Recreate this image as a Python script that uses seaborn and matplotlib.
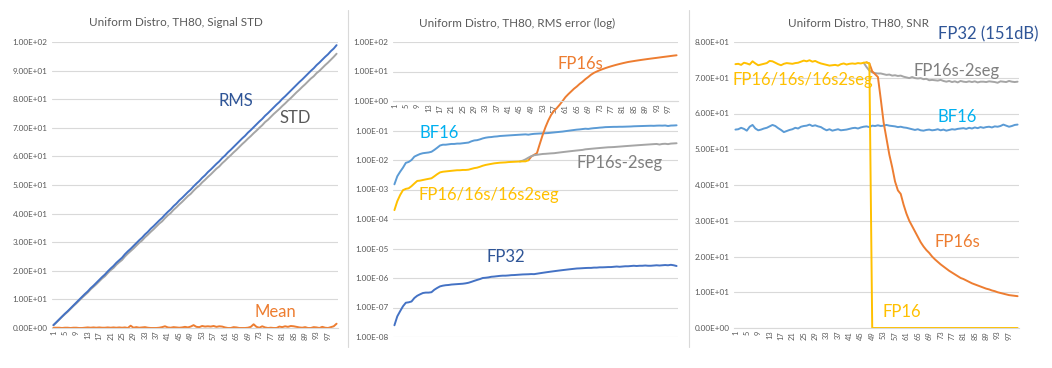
import numpy as np
import pandas as pd
import matplotlib
matplotlib.use("Agg")
import matplotlib.pyplot as plt
from matplotlib.ticker import FixedLocator, FuncFormatter, NullLocator
import seaborn as sns

nan = np.nan
runs = list(range(1, 101))
x_ticks = list(range(1, 101, 4))

# ---- panel 1: signal statistics ----
rms = [1.0, 2.0, 3.0, 4.0, 5.0, 5.9, 6.9, 7.9, 8.9, 9.9,
       10.9, 11.9, 12.8, 13.9, 14.8, 15.8, 16.8, 17.8, 18.7, 19.8,
       20.8, 21.7, 22.8, 23.7, 24.6, 25.8, 26.8, 27.7, 28.7, 29.7,
       30.7, 31.6, 32.7, 33.6, 34.7, 35.6, 36.6, 37.6, 38.5, 39.6,
       40.6, 41.5, 42.6, 43.5, 44.6, 45.5, 46.5, 47.5, 48.4, 49.5,
       50.5, 51.4, 52.5, 53.4, 54.5, 55.4, 56.4, 57.4, 58.3, 59.4,
       60.3, 61.4, 62.3, 63.3, 64.3, 65.3, 66.3, 67.2, 68.3, 69.2,
       70.2, 71.2, 72.2, 73.1, 74.2, 75.1, 76.1, 77.1, 78.1, 79.0,
       80.1, 81.0, 82.0, 83.0, 84.0, 85.0, 86.0, 86.9, 87.9, 88.9,
       89.9, 90.8, 91.9, 92.8, 93.8, 94.8, 95.7, 96.8, 97.7, 98.9]
std = [1.0, 1.9, 2.9, 3.9, 4.8, 5.7, 6.7, 7.7, 8.6, 9.6,
       10.6, 11.5, 12.4, 13.5, 14.4, 15.3, 16.3, 17.3, 18.1, 19.2,
       20.2, 21.0, 22.1, 23.0, 23.8, 25.0, 26.0, 26.9, 27.8, 28.8,
       29.8, 30.6, 31.7, 32.6, 33.6, 34.5, 35.5, 36.5, 37.3, 38.4,
       39.4, 40.2, 41.3, 42.2, 43.2, 44.1, 45.1, 46.1, 46.9, 48.0,
       49.0, 49.8, 50.9, 51.8, 52.8, 53.7, 54.7, 55.7, 56.5, 57.6,
       58.5, 59.5, 60.4, 61.4, 62.3, 63.3, 64.3, 65.2, 66.2, 67.1,
       68.1, 69.0, 70.0, 70.9, 72.0, 72.8, 73.8, 74.8, 75.7, 76.6,
       77.6, 78.5, 79.5, 80.4, 81.4, 82.4, 83.3, 84.3, 85.2, 86.2,
       87.2, 88.0, 89.1, 89.9, 90.9, 91.9, 92.8, 93.8, 94.8, 95.9]
mean = [0.1, 0.1, 0.1, 0.0, 0.1, 0.1, 0.0, 0.1, 0.1, 0.0,
        0.0, 0.1, 0.2, 0.1, 0.2, 0.1, 0.2, 0.1, 0.1, 0.2,
        0.1, 0.2, 0.1, 0.2, 0.1, 0.2, 0.0, 0.8, 0.1, 0.3,
        0.1, 0.2, 0.3, 0.1, 0.0, 0.0, 0.0, 0.1, 0.3, 0.6,
        0.2, 0.1, 0.3, 0.2, 0.1, 0.2, 0.4, 0.2, 0.5, 1.0,
        0.4, 0.3, 0.7, 0.5, 0.6, 0.5, 0.7, 0.4, 0.6, 0.5,
        0.2, 0.0, 0.0, 0.3, 0.2, 0.0, 0.0, 0.0, 0.1, 0.4,
        1.3, 0.4, 0.1, 0.6, 0.2, 0.0, 0.1, 0.0, 0.0, 0.5,
        0.3, 0.6, 0.4, 0.7, 0.6, 0.4, 0.2, 0.1, 0.3, 0.0,
        0.0, 0.3, 0.2, 0.0, 0.4, 0.1, 0.0, 0.3, 0.6, 1.5]

# ---- panel 2: RMS error ----
bf16_err = [1.5e-3, 2.8e-3, 4.0e-3, 5.5e-3, 8.0e-3, 8.6e-3, 1.0e-2, 1.3e-2, 1.45e-2, 1.6e-2,
            1.7e-2, 1.75e-2, 1.8e-2, 1.9e-2, 2.2e-2, 2.6e-2, 3.1e-2, 3.3e-2, 3.3e-2, 3.4e-2,
            3.5e-2, 3.5e-2, 3.6e-2, 3.6e-2, 3.7e-2, 3.8e-2, 3.9e-2, 4.3e-2, 4.6e-2, 4.7e-2,
            5.0e-2, 5.4e-2, 5.7e-2, 5.9e-2, 6.0e-2, 6.2e-2, 6.3e-2, 6.5e-2, 6.6e-2, 6.7e-2,
            6.8e-2, 6.9e-2, 7.0e-2, 7.1e-2, 7.2e-2, 7.3e-2, 7.4e-2, 7.2e-2, 7.5e-2, 7.7e-2,
            7.8e-2, 7.9e-2, 8.0e-2, 8.1e-2, 8.2e-2, 8.4e-2, 8.6e-2, 8.8e-2, 9.0e-2, 9.2e-2,
            9.5e-2, 9.8e-2, 1.01e-1, 1.04e-1, 1.07e-1, 1.09e-1, 1.12e-1, 1.15e-1, 1.13e-1, 1.17e-1,
            1.2e-1, 1.22e-1, 1.25e-1, 1.27e-1, 1.3e-1, 1.31e-1, 1.32e-1, 1.33e-1, 1.33e-1, 1.34e-1,
            1.34e-1, 1.35e-1, 1.36e-1, 1.37e-1, 1.39e-1, 1.40e-1, 1.41e-1, 1.42e-1, 1.43e-1, 1.44e-1,
            1.45e-1, 1.44e-1, 1.46e-1, 1.47e-1, 1.46e-1, 1.48e-1, 1.42e-1, 1.47e-1, 1.48e-1, 1.5e-1]
fp16_err = [2.0e-4, 4.0e-4, 6.5e-4, 9.5e-4, 1.05e-3, 1.1e-3, 1.3e-3, 1.6e-3, 1.95e-3, 2.0e-3,
            2.1e-3, 2.2e-3, 2.3e-3, 2.4e-3, 2.8e-3, 3.3e-3, 3.8e-3, 4.0e-3, 4.1e-3, 4.2e-3,
            4.3e-3, 4.4e-3, 4.5e-3, 4.5e-3, 4.6e-3, 4.6e-3, 4.7e-3, 5.0e-3, 5.3e-3, 5.5e-3,
            5.9e-3, 6.4e-3, 6.8e-3, 7.1e-3, 7.4e-3, 7.7e-3, 7.9e-3, 8.1e-3, 8.2e-3, 8.3e-3,
            8.5e-3, 8.6e-3, 8.7e-3, 8.8e-3, 8.9e-3, 9.0e-3, 9.0e-3, 9.8e-3] + [nan] * 52
fp16s_err = [nan] * 47 + [
    9.8e-3, 1.3e-2, 1.5e-2, 1.7e-2, 3.5e-2, 7.0e-2, 1.3e-1, 2.2e-1, 3.4e-1, 4.6e-1,
    5.8e-1, 7.5e-1, 1.0, 1.35, 1.7, 2.1, 2.6, 3.1, 3.8, 4.5,
    5.5, 6.5, 7.8, 9.0, 10.0, 11.0, 12.0, 13.0, 14.0, 15.0,
    16.0, 17.0, 18.0, 19.0, 20.0, 21.0, 21.8, 22.6, 23.4, 24.2,
    25.0, 25.8, 26.6, 27.4, 28.2, 29.0, 29.9, 30.8, 31.7, 32.6,
    33.6, 34.6, 35.5]
fp16s2seg_err = [nan] * 44 + [
    8.9e-3, 9.5e-3, 1.05e-2, 1.2e-2, 1.35e-2, 1.45e-2, 1.5e-2, 1.55e-2, 1.6e-2, 1.62e-2,
    1.65e-2, 1.68e-2, 1.7e-2, 1.75e-2, 1.8e-2, 1.85e-2, 1.9e-2, 1.95e-2, 2.0e-2, 2.05e-2,
    2.1e-2, 2.15e-2, 2.2e-2, 2.3e-2, 2.35e-2, 2.4e-2, 2.45e-2, 2.5e-2, 2.55e-2, 2.6e-2,
    2.65e-2, 2.7e-2, 2.72e-2, 2.75e-2, 2.8e-2, 2.85e-2, 2.9e-2, 2.95e-2, 3.0e-2, 3.05e-2,
    3.1e-2, 3.15e-2, 3.2e-2, 3.25e-2, 3.3e-2, 3.35e-2, 3.4e-2, 3.45e-2, 3.5e-2, 3.35e-2,
    3.5e-2, 3.55e-2, 3.45e-2, 3.6e-2, 3.65e-2, 3.7e-2]
fp32_err = [2.5e-8, 5.0e-8, 7.5e-8, 1.1e-7, 1.45e-7, 1.5e-7, 1.6e-7, 2.1e-7, 2.5e-7, 2.8e-7,
            3.1e-7, 3.2e-7, 3.2e-7, 3.3e-7, 4.0e-7, 4.6e-7, 5.2e-7, 5.5e-7, 5.7e-7, 5.8e-7,
            6.0e-7, 6.1e-7, 6.2e-7, 6.3e-7, 6.4e-7, 6.6e-7, 6.9e-7, 7.4e-7, 8.0e-7, 8.6e-7,
            9.2e-7, 1.0e-6, 1.02e-6, 1.05e-6, 1.1e-6, 1.12e-6, 1.15e-6, 1.18e-6, 1.2e-6, 1.2e-6,
            1.22e-6, 1.25e-6, 1.26e-6, 1.28e-6, 1.3e-6, 1.32e-6, 1.33e-6, 1.34e-6, 1.36e-6, 1.35e-6,
            1.4e-6, 1.45e-6, 1.5e-6, 1.55e-6, 1.6e-6, 1.65e-6, 1.7e-6, 1.75e-6, 1.8e-6, 1.85e-6,
            1.9e-6, 1.95e-6, 2.0e-6, 2.05e-6, 2.1e-6, 2.12e-6, 2.15e-6, 2.18e-6, 2.2e-6, 2.2e-6,
            2.25e-6, 2.25e-6, 2.3e-6, 2.3e-6, 2.32e-6, 2.35e-6, 2.35e-6, 2.4e-6, 2.45e-6, 2.4e-6,
            2.45e-6, 2.5e-6, 2.5e-6, 2.55e-6, 2.6e-6, 2.55e-6, 2.6e-6, 2.6e-6, 2.65e-6, 2.6e-6,
            2.6e-6, 2.65e-6, 2.7e-6, 2.65e-6, 2.7e-6, 2.75e-6, 2.7e-6, 2.8e-6, 2.7e-6, 2.55e-6]

# ---- panel 3: SNR (dB) ----
bf16_snr = [55.5, 55.6, 56.0, 55.7, 55.2, 56.3, 56.8, 55.8, 55.3, 55.5,
            55.8, 56.0, 56.4, 56.8, 56.5, 55.9, 55.4, 54.8, 55.1, 55.4,
            55.6, 56.0, 55.8, 56.3, 56.5, 56.6, 56.9, 56.5, 56.7, 56.4,
            56.2, 55.7, 55.3, 55.6, 55.2, 55.4, 55.6, 55.3, 55.4, 55.5,
            55.7, 55.9, 56.0, 55.8, 56.1, 56.3, 56.4, 56.2, 56.6, 56.5,
            56.7, 56.5, 56.6, 56.8, 56.6, 56.5, 56.4, 56.2, 56.3, 56.1,
            56.0, 55.8, 55.6, 55.4, 55.6, 55.3, 55.2, 55.4, 55.5, 55.3,
            55.4, 55.6, 55.3, 55.5, 55.2, 55.4, 55.6, 55.5, 55.7, 55.8,
            55.9, 55.7, 56.0, 55.8, 56.1, 55.9, 56.2, 56.0, 56.2, 56.3,
            56.1, 56.4, 56.3, 56.5, 56.9, 56.6, 56.3, 56.5, 56.8, 56.9]
fp16_snr = [73.8, 73.9, 73.6, 74.2, 74.0, 73.7, 74.6, 74.0, 73.5, 73.7,
            73.9, 74.1, 74.7, 74.6, 74.2, 73.8, 73.5, 73.9, 74.1, 74.0,
            73.9, 74.1, 74.2, 74.5, 74.8, 74.6, 74.9, 74.5, 74.7, 74.3,
            74.0, 73.8, 73.6, 73.4, 73.5, 73.6, 73.4, 73.8, 74.0, 73.7,
            73.9, 74.0, 73.9, 74.1, 74.0, 74.2, 74.3, 74.0] + [0.0] * 52
fp16s_snr = [nan] * 46 + [
    74.3, 74.0, 71.8, 71.0, 70.2, 64.0, 57.5, 53.0, 48.5, 45.0,
    41.0, 38.5, 37.5, 34.5, 32.0, 30.0, 28.5, 27.0, 25.5, 24.0,
    22.8, 21.8, 21.0, 20.0, 19.2, 18.5, 17.8, 17.2, 16.6, 16.0,
    15.5, 15.0, 14.5, 14.0, 13.7, 13.3, 12.9, 12.5, 12.2, 11.9,
    11.6, 11.3, 11.0, 10.8, 10.5, 10.3, 10.0, 9.8, 9.6, 9.4,
    9.2, 9.1, 9.0, 8.9]
fp16s2seg_snr = [nan] * 45 + [
    74.2, 73.0, 72.0, 71.5, 71.3, 71.2, 71.2, 71.0, 70.8, 70.9,
    70.6, 70.7, 70.5, 70.6, 70.3, 70.1, 69.9, 70.2, 69.9, 69.8,
    69.9, 69.6, 69.7, 69.3, 69.4, 69.3, 69.2, 69.4, 69.1, 68.9,
    69.1, 68.8, 69.0, 68.7, 69.1, 68.9, 68.8, 69.0, 68.8, 69.0,
    68.7, 68.9, 68.9, 68.8, 69.0, 68.9, 68.8, 68.6, 69.0, 68.9,
    68.8, 69.1, 68.9, 68.8, 68.9]

BLUE = "#4472C4"
LBLUE = "#5B9BD5"
ORANGE = "#ED7D31"
GREY = "#A5A5A5"
YELLOW = "#FFC000"
NAVY = "#2F5597"
CYAN = "#00B0F0"
DGREY = "#7F7F7F"
TXT = "#595959"
GRID = "#D9D9D9"

sns.set_style("white")
plt.rcParams["font.family"] = ["Lato", "DejaVu Sans"]

W, H = 1052, 368
fig = plt.figure(figsize=(W / 100, H / 100), dpi=100)


def px(x, y):
    return x / W, 1 - y / H


def add_panel(left, top, right, bottom):
    return fig.add_axes([left / W, 1 - bottom / H, (right - left) / W, (bottom - top) / H])


def sci(v, pos):
    return "%.2E" % v


def style(ax, yticks):
    ax.set_xlim(0.5, 100.5)
    ax.yaxis.set_major_locator(FixedLocator(yticks))
    ax.yaxis.set_minor_locator(NullLocator())
    ax.yaxis.set_major_formatter(FuncFormatter(sci))
    ax.xaxis.set_major_locator(FixedLocator(x_ticks))
    ax.xaxis.set_minor_locator(NullLocator())
    ax.tick_params(axis="y", length=0, labelsize=5.9, labelcolor=TXT, pad=3)
    ax.tick_params(axis="x", length=0, labelsize=5.4, labelcolor=TXT, pad=2, labelrotation=90)
    ax.grid(axis="y", color=GRID, linewidth=0.8)
    ax.grid(axis="x", visible=False)
    for s in ["left", "right", "top"]:
        ax.spines[s].set_visible(False)
    ax.spines["bottom"].set_color(GRID)
    ax.spines["bottom"].set_linewidth(0.8)
    ax.set_xlabel("")
    ax.set_ylabel("")


def line(ax, y, color, lw=1.4):
    sns.lineplot(x=runs, y=np.array(y, dtype=float), ax=ax, color=color,
                 linewidth=lw, estimator=None, legend=False)


# panel 1
ax1 = add_panel(52, 42, 338, 328)
line(ax1, mean, ORANGE)
line(ax1, std, GREY)
line(ax1, rms, BLUE)
ax1.set_ylim(0, 100)
style(ax1, list(range(0, 101, 10)))

# panel 2
ax2 = add_panel(393, 42, 678, 337)
ax2.set_yscale("log")
line(ax2, bf16_err, LBLUE)
line(ax2, fp32_err, BLUE)
line(ax2, fp16s_err, ORANGE)
line(ax2, fp16s2seg_err, GREY)
line(ax2, fp16_err, YELLOW)
ax2.set_ylim(1e-8, 1e2)
style(ax2, [10.0 ** k for k in range(-8, 3)])
ax2.spines["bottom"].set_position(("data", 1.0))

# panel 3
ax3 = add_panel(734, 42, 1019, 328)
line(ax3, bf16_snr, LBLUE)
line(ax3, fp16s2seg_snr, GREY)
line(ax3, fp16s_snr, ORANGE)
line(ax3, fp16_snr, YELLOW)
ax3.set_ylim(0, 80)
style(ax3, list(range(0, 81, 10)))

# chart frames between the three panels
for xs in (348, 689):
    fig.add_artist(plt.Line2D([xs / W, xs / W], [1 - 10 / H, 1 - 347 / H],
                              color=GRID, linewidth=0.8))

# titles
title_kw = dict(fontsize=8.4, color=TXT, ha="center", va="center")
fig.text(*px(176, 23), "Uniform Distro, TH80, Signal STD", **title_kw)
fig.text(*px(517, 23), "Uniform Distro, TH80, RMS error (log)", **title_kw)
fig.text(*px(859, 23), "Uniform Distro, TH80, SNR", **title_kw)

# series labels
lab = dict(fontsize=12, ha="center", va="center")
fig.text(*px(236, 101), "RMS", color=NAVY, **lab)
fig.text(*px(295, 118), "STD", color=TXT, **lab)
fig.text(*px(275, 312), "Mean", color=ORANGE, **lab)

fig.text(*px(580, 64), "FP16s", color=ORANGE, **lab)
fig.text(*px(439, 133), "BF16", color=CYAN, **lab)
fig.text(*px(620, 163), "FP16s-2seg", color=DGREY, **lab)
fig.text(*px(489, 195), "FP16/16s/16s2seg", color=YELLOW, **lab)
fig.text(*px(506, 257), "FP32", color=NAVY, **lab)

fig.text(*px(988, 34), "FP32 (151dB)", color=NAVY, **lab)
fig.text(*px(957, 71), "FP16s-2seg", color=DGREY, **lab)
fig.text(*px(803, 80), "FP16/16s/16s2seg", color=YELLOW, **lab)
fig.text(*px(957, 117), "BF16", color=CYAN, **lab)
fig.text(*px(957, 242), "FP16s", color=ORANGE, **lab)
fig.text(*px(902, 312), "FP16", color=YELLOW, **lab)

fig.savefig("out.png", dpi=100, facecolor="white")
